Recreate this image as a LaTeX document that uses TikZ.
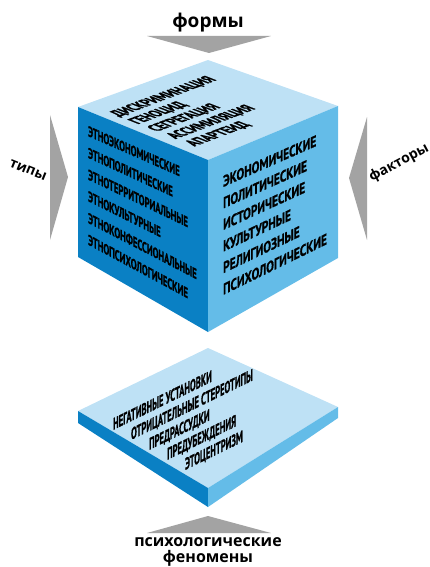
\documentclass[tikz,border=0pt]{standalone}
\usepackage{fontspec}
\setmainfont{Open Sans}
\newfontfamily\facefont{PT Sans}[BoldFeatures={FakeBold=1.3}]
\definecolor{topc}{HTML}{BEE1F5}
\definecolor{leftc}{HTML}{0A80C4}
\definecolor{rightc}{HTML}{64BCE8}
\definecolor{arrc}{HTML}{A3A3A3}
\newcommand\cubeL[5]{%
  \begin{scope}[shift={(#2,#3)}, yslant=#4, xscale=0.6]
    \node[lefttxt] (#1) at (0,0) {#5};
  \end{scope}}
\newcommand\cubeR[5]{%
  \begin{scope}[shift={(#2,#3)}, yslant=#4, xscale=0.74]
    \node[righttxt] (#1) at (0,0) {#5};
  \end{scope}}
\newcommand\slabT[4]{%
  \begin{scope}[shift={(#2,#3)}, yslant=0.49, xscale=0.52]
    \node[slabtxt] (#1) at (0,0) {#4};
  \end{scope}}
\begin{document}
\begin{tikzpicture}[x=1pt,y=-1pt,
  lbl/.style={inner sep=0pt, text=black},
  facebase/.style={inner sep=0pt, anchor=base west, transform shape, text=black},
  lefttxt/.style={facebase, font=\facefont\bfseries\fontsize{14.5}{14.5}\selectfont},
  righttxt/.style={facebase, font=\facefont\bfseries\fontsize{15.5}{15.5}\selectfont},
  slabtxt/.style={facebase, font=\facefont\bfseries\fontsize{16.5}{16.5}\selectfont},
  toptxt/.style={facebase, font=\facefont\bfseries\fontsize{14}{14}\selectfont},
  pointer/.style={fill=arrc, draw=none}]
\useasboundingbox (0,0) rectangle (430,567);

% pointers
\fill[pointer] (147,36) -- (271,36) -- (209,53) -- cycle;
\fill[pointer] (50,115) -- (68,177) -- (50,240) -- cycle;
\fill[pointer] (367,117) -- (349,178) -- (367,240) -- cycle;
\fill[pointer] (147,533) -- (271,533) -- (208,516) -- cycle;

% cube
\fill[topc] (78,107) -- (208,60) -- (338,106) -- (208,160) -- cycle;
\fill[leftc] (78,107) -- (208,160) -- (208,332) -- (78,257) -- cycle;
\fill[rightc] (208,160) -- (338,106) -- (338,258) -- (208,332) -- cycle;

% slab
\fill[topc] (78,411) -- (208,348) -- (338,407) -- (208,488) -- cycle;
\fill[leftc] (78,411) -- (208,488) -- (208,507) -- (78,423) -- cycle;
\fill[rightc] (208,488) -- (338,407) -- (338,418) -- (208,507) -- cycle;

% top face text
\begin{scope}[shift={(119,117)}, cm={0.83,0.313,-1.164,0.456,(0,0)}]
  \node[toptxt] (t1) at (0,0) {ДИСКРИМИНАЦИЯ};
  \node[toptxt] (t2) at (0,16.2) {ГЕНОЦИД};
  \node[toptxt] (t3) at (0,32.4) {СЕГРЕГАЦИЯ};
  \node[toptxt] (t4) at (0,48.6) {АССИМИЛЯЦИЯ};
  \node[toptxt] (t5) at (0,64.8) {АПАРТЕИД};
\end{scope}

% left face text
\cubeL{l1}{88}{136}{-0.44}{ЭТНОЭКОНОМИЧЕСКИЕ}
\cubeL{l2}{88}{157.7}{-0.46}{ЭТНОПОЛИТИЧЕСКИЕ}
\cubeL{l3}{88}{179.4}{-0.48}{ЭТНОТЕРРИТОРИАЛЬНЫЕ}
\cubeL{l4}{88}{201}{-0.50}{ЭТНОКУЛЬТУРНЫЕ}
\cubeL{l5}{88}{222.8}{-0.52}{ЭТНОКОНФЕССИОНАЛЬНЫЕ}
\cubeL{l6}{88}{244.5}{-0.54}{ЭТНОПСИХОЛОГИЧЕСКИЕ}

% right face text
\cubeR{r1}{223}{187}{0.44}{ЭКОНОМИЧЕСКИЕ}
\cubeR{r2}{223}{208.6}{0.45}{ПОЛИТИЧЕСКИЕ}
\cubeR{r3}{223}{230.2}{0.46}{ИСТОРИЧЕСКИЕ}
\cubeR{r4}{223}{251.8}{0.47}{КУЛЬТУРНЫЕ}
\cubeR{r5}{223}{273.4}{0.48}{РЕЛИГИОЗНЫЕ}
\cubeR{r6}{223}{295}{0.49}{ПСИХОЛОГИЧЕСКИЕ}

% slab text
\slabT{s1}{113}{430}{НЕГАТИВНЫЕ УСТАНОВКИ}
\slabT{s2}{131}{440}{ОТРИЦАТЕЛЬНЫЕ СТЕРЕОТИПЫ}
\slabT{s3}{149}{450}{ПРЕДРАССУДКИ}
\slabT{s4}{167}{460}{ПРЕДУБЕЖДЕНИЯ}
\slabT{s5}{185}{470}{ЭТОЦЕНТРИЗМ}

% labels
\node[lbl, anchor=base, font=\bfseries\fontsize{19}{19}\selectfont] (formy) at (208,28) {формы};
\node[lbl, rotate=-22, font=\bfseries\fontsize{14}{14}\selectfont] (tipy) at (28,170) {типы};
\node[lbl, rotate=28, font=\bfseries\fontsize{14}{14}\selectfont] (faktory) at (399,163) {факторы};
\node[lbl, anchor=base, font=\bfseries\fontsize{16}{16}\selectfont] (psy1) at (208,546) {психологические};
\node[lbl, anchor=base, font=\bfseries\fontsize{16}{16}\selectfont] (psy2) at (208,562) {феномены};
\end{tikzpicture}
\end{document}
